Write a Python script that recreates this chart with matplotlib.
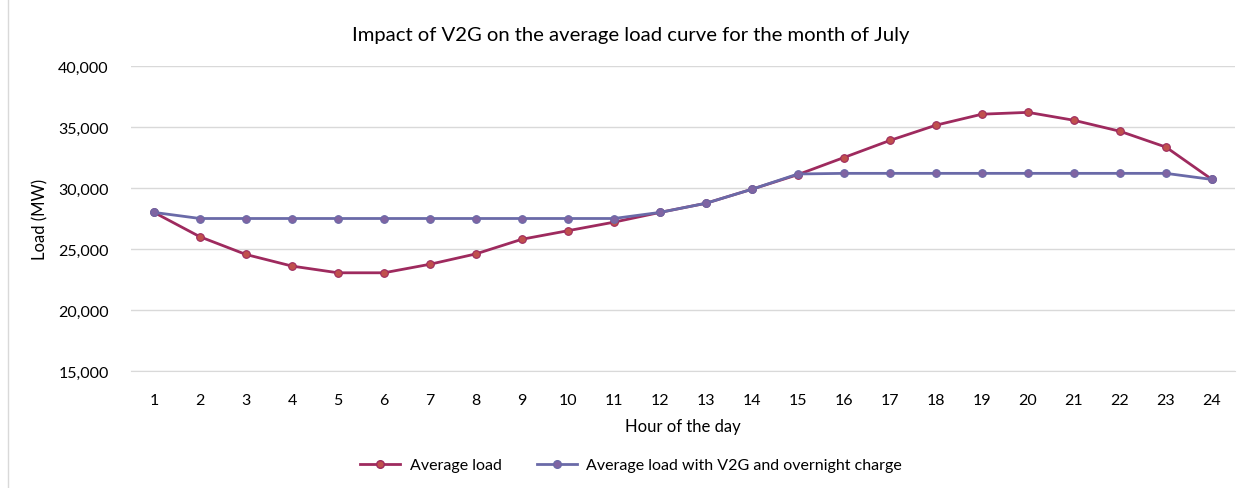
import matplotlib
matplotlib.use("Agg")
import matplotlib.pyplot as plt
from matplotlib.ticker import FuncFormatter, MultipleLocator
from matplotlib.lines import Line2D

plt.rcParams['font.family'] = ['Lato', 'DejaVu Sans']

hours = list(range(1, 25))
avg_load = [28000, 26000, 24550, 23600, 23050, 23050, 23750, 24600, 25800, 26500,
            27200, 28000, 28750, 29900, 31100, 32500, 33900, 35150, 36050, 36200,
            35550, 34650, 33350, 30700]
v2g_load = [28000, 27500, 27500, 27500, 27500, 27500, 27500, 27500, 27500, 27500,
            27500, 28000, 28750, 29900, 31150, 31200, 31200, 31200, 31200, 31200,
            31200, 31200, 31200, 30700]

title = "Impact of V2G on the average load curve for the month of July"
xlabel = "Hour of the day"
ylabel = "Load (MW)"
labels = ["Average load", "Average load with V2G and overnight charge"]

fig = plt.figure(figsize=(12.52, 4.89), dpi=100)
ax = fig.add_axes([131/1252, 1-372/489, (1235-131)/1252, (372-67)/489])

c1_line, c1_mk = "#9E2A5E", "#C0504D"
c2_line, c2_mk = "#6A6AA8", "#8064A2"

ax.plot(hours, avg_load, color=c1_line, lw=2.0, marker='o', ms=5.5,
        mfc=c1_mk, mec=c1_line, mew=0.8, zorder=3)
ax.plot(hours, v2g_load, color=c2_line, lw=2.0, marker='o', ms=5.5,
        mfc=c2_mk, mec=c2_line, mew=0.8, zorder=4)

ax.set_xlim(0.5, 24.5)
ax.set_ylim(15000, 40000)
ax.yaxis.set_major_locator(MultipleLocator(5000))
ax.yaxis.set_major_formatter(FuncFormatter(lambda v, p: f"{int(v):,}"))
ax.set_xticks(hours)
ax.set_xticklabels([str(h) for h in hours])
ax.grid(axis='y', color='#D9D9D9', lw=1)
ax.set_axisbelow(True)
for s in ['top', 'right', 'left']:
    ax.spines[s].set_visible(False)
ax.spines['bottom'].set_color('#D9D9D9')
ax.tick_params(axis='both', length=0, labelsize=11.5, colors='#000000')
ax.tick_params(axis='x', pad=16)
ax.tick_params(axis='y', pad=16)

fig.text(631/1252, 1-35/489, title, fontsize=14.6, ha='center', va='center')
ax.set_xlabel(xlabel, fontsize=12, labelpad=8)
ax.set_ylabel(ylabel, fontsize=12, labelpad=7)

handles = [Line2D([], [], color=c1_line, lw=2.0, marker='o', ms=5.5, mfc=c1_mk, mec=c1_line),
           Line2D([], [], color=c2_line, lw=2.0, marker='o', ms=5.5, mfc=c2_mk, mec=c2_line)]
fig.legend(handles, labels, loc='center', bbox_to_anchor=(631/1252, 1-466/489),
           ncol=2, frameon=False, fontsize=11.5, columnspacing=2.2, handlelength=2.5,
           handletextpad=0.6)

fig.add_artist(Line2D([8/1252, 8/1252], [0, 1], color='#D9D9D9', lw=1, transform=fig.transFigure))

fig.savefig("out.png", dpi=100)
